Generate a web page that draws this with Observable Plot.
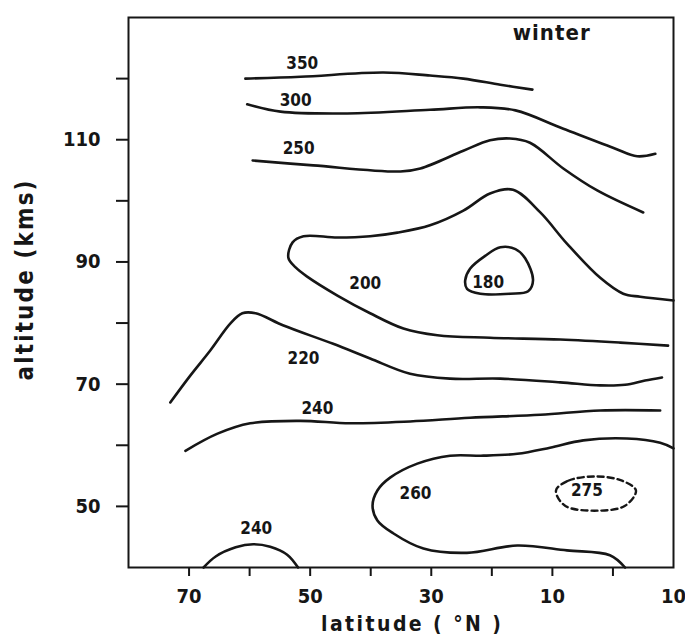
<!DOCTYPE html>
<html><head><meta charset="utf-8">
<script src="https://cdn.jsdelivr.net/npm/d3@7"></script>
<script src="https://cdn.jsdelivr.net/npm/@observablehq/plot@0.6"></script>
<style>body{margin:0;background:#fff} #chart svg{display:block}</style>
</head><body><div id="chart"></div>
<script>
// Contour lines of temperature (K): [latitude °N, altitude km]
const c350 = [[60.7,120.0],[51.6,120.3],[37.9,121.0],[30.2,120.5],[24.7,120.0],[18.6,119.0],[13.3,118.2]];
const c300 = [[60.4,115.8],[54.9,114.6],[43.9,114.3],[30.2,114.9],[21.9,115.3],[16.1,114.8],[8.2,111.8],[0.0,108.7],[-4.0,107.3],[-7.0,107.7]];
const c250 = [[59.5,106.6],[49.5,105.8],[35.1,104.8],[31.8,105.3],[24.7,108.2],[20.3,109.9],[17.0,110.2],[13.7,109.5],[8.2,105.3],[2.6,101.7],[-5.0,98.1]];
const c200 = [[-10,83.7],[-4.5,84.3],[-1.7,84.8],[2.1,87.4],[7.6,93.0],[12.0,98.1],[16.5,101.8],[20.3,101.2],[24.7,98.4],[30.2,96.0],[35.6,94.8],[40.1,94.2],[45.5,94.0],[51.1,94.2],[52.9,93.2],[53.6,90.7],[52.4,89.1],[50.5,87.6],[45.5,84.5],[40.1,81.6],[34.6,79.1],[29.0,78.0],[20.3,77.6],[8.7,77.3],[-1.2,76.8],[-9.1,76.3]];
const c180 = [[24.4,87.0],[23.6,88.9],[21.1,91.0],[18.6,92.4],[16.1,92.1],[14.5,90.6],[13.2,87.0],[14.0,85.2],[17.0,84.8],[21.9,84.8],[24.1,85.6]];
const c220 = [[73.1,67.0],[69.8,71.4],[66.5,75.5],[63.2,79.9],[61.2,81.6],[59.0,81.6],[54.4,79.6],[46.2,76.6],[40.1,74.2],[33.5,71.7],[26.9,70.9],[18.6,70.9],[8.7,70.3],[2.1,69.8],[-2.0,69.9],[-5.3,70.6],[-8.1,71.1]];
const c240a = [[70.6,59.1],[65.3,61.9],[59.9,63.6],[51.6,64.0],[43.4,63.6],[33.5,63.9],[23.6,64.5],[12.0,65.0],[2.1,65.7],[-7.8,65.7]];
const c260 = [[-10,59.5],[-7.8,60.4],[-2.3,61.1],[4.9,60.8],[10.4,59.6],[15.8,58.6],[21.4,58.3],[26.9,58.3],[32.3,57.0],[36.8,54.7],[38.9,52.6],[39.7,50.1],[38.9,47.7],[36.3,45.6],[31.3,43.1],[24.1,42.4],[15.8,43.6],[7.6,42.8],[0.5,42.0],[-2.0,40.0]];
const c275 = [[9.4,52.6],[7.4,54.2],[2.9,54.9],[-1.5,54.2],[-3.8,52.6],[-2.0,50.1],[2.6,49.3],[7.9,50.1]];
const c240b = [[67.6,40.0],[65.6,41.8],[62.3,43.3],[59.4,43.8],[56.6,43.4],[53.8,42.1],[52.0,40.0]];

const labelTexts = ["350","300","250","200","180","220","240","260","275","240"];
const labelLat   = [51.3, 52.4, 51.9, 40.9, 20.6, 51.1, 48.8, 32.6, 4.3, 58.9];
const labelAlt   = [122.5,116.4,108.6,86.5, 86.6, 74.2, 66.0, 52.1, 52.6,46.4];

const xTickMarks = [70,60,50,40,30,20,10,0];
const xTickValues = [70,50,30,10,-10];
const xTickLabels = ["70","50","30","10","10"];
const yTickMarks = [120,110,100,90,80,70,60,50];
const yTickValues = [110,90,70,50];
const yTickLabels = ["110","90","70","50"];
const seasonText = "winter";
const seasonLat = 10.2, seasonAlt = 127.5;
const xTitle = "latitude ( °N )";
const yTitle = "altitude (kms)";

const openLines = [["350",c350],["300",c300],["250",c250],["200",c200],["220",c220],["240a",c240a],["260",c260],["240b",c240b]]
  .flatMap(([id, pts]) => pts.map(([lat, alt]) => ({id, lat, alt})));
const loop180 = c180.map(([lat, alt]) => ({lat, alt}));
const loop275 = c275.map(([lat, alt]) => ({lat, alt}));

const xLab = new Map(xTickValues.map((v,i)=>[v, xTickLabels[i]]));
const yLab = new Map(yTickValues.map((v,i)=>[v, yTickLabels[i]]));
const font = "'DejaVu Sans Condensed', 'DejaVu Sans', sans-serif";
const ink = "#161616";

const chart = Plot.plot({
  width: 685, height: 637,
  marginLeft: 128, marginRight: 12, marginTop: 17, marginBottom: 70,
  style: {fontFamily: font, color: ink, background: "#fff"},
  x: {domain: [80, -10]},
  y: {domain: [40, 130]},
  marks: [
    Plot.axisX(xTickMarks, {tickSize: 9, strokeWidth: 2, tickFormat: () => "", label: null}),
    Plot.axisX(xTickValues, {tickSize: 0, tickPadding: 21, tickFormat: d => xLab.get(d), fontSize: 20, fontWeight: "bold", label: null}),
    Plot.axisY(yTickMarks, {tickSize: 12, strokeWidth: 2, tickFormat: () => "", label: null}),
    Plot.axisY(yTickValues, {tickSize: 0, tickPadding: 28, tickFormat: d => yLab.get(d), fontSize: 20, fontWeight: "bold", label: null}),
    Plot.frame({stroke: ink, strokeWidth: 2}),
    Plot.line(openLines, {x: "lat", y: "alt", z: "id", curve: "catmull-rom", stroke: ink, strokeWidth: 2.6}),
    Plot.line(loop180, {x: "lat", y: "alt", curve: "catmull-rom-closed", stroke: ink, strokeWidth: 2.6}),
    Plot.line(loop275, {x: "lat", y: "alt", curve: "catmull-rom-closed", stroke: ink, strokeWidth: 2.4, strokeDasharray: "6,4"}),
    Plot.text(labelTexts, {x: (d,i) => labelLat[i], y: (d,i) => labelAlt[i], text: d => d, fontSize: 17, fontWeight: "bold", fill: ink}),
    Plot.text([seasonText], {x: () => seasonLat, y: () => seasonAlt, text: d => d, fontSize: 22, fontWeight: "bold", fill: ink}),
    Plot.text([xTitle], {frameAnchor: "bottom", textAnchor: "middle", lineAnchor: "middle", dx: 10, dy: 57, text: d => d, fontSize: 21, fontWeight: "bold", fill: ink}),
    Plot.text([yTitle], {frameAnchor: "left", textAnchor: "middle", lineAnchor: "middle", dx: -103, dy: -12, rotate: -90, text: d => d, fontSize: 24, fontWeight: "bold", fill: ink})
  ]
});
// stretch the hand-lettered titles to the widths seen in the reference
const stretch = {[yTitle]: 200, [xTitle]: 180, [seasonText]: 77};
d3.select(chart).selectAll("text").each(function() {
  const len = stretch[this.textContent];
  if (len) d3.select(this).attr("textLength", len).attr("lengthAdjust", "spacing");
});
document.getElementById("chart").appendChild(chart);
</script>
</body></html>
